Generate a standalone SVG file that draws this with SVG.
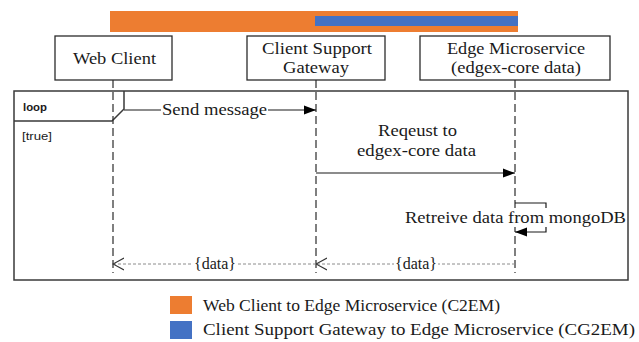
<svg xmlns="http://www.w3.org/2000/svg" width="639" height="342" viewBox="0 0 639 342">
  <defs>
    <style>
      .lbl { font-family: "Liberation Serif", "DejaVu Serif", serif; font-size: 16px; fill: #1a1a1a; }
      .node { fill: #ffffff; stroke: #2b2b2b; stroke-width: 1.3; }
      .life { stroke: #2b2b2b; stroke-width: 1.2; stroke-dasharray: 8 4; fill: none; }
      .msg { stroke: #1a1a1a; stroke-width: 1.2; fill: none; }
      .ret { stroke: #8c8c8c; stroke-width: 1; stroke-dasharray: 3 2; fill: none; }
      .frame { fill: none; stroke: #3a3a3a; stroke-width: 1.5; }
      .bg { fill: #ffffff; }
      .sans { font-family: "Liberation Sans", Arial, sans-serif; font-size: 11px; fill: #1a1a1a; }
    </style>
    <marker id="filled" markerWidth="12" markerHeight="10" refX="12" refY="5" orient="auto" markerUnits="userSpaceOnUse">
      <path d="M0,0.5 L12,5 L0,9.5 Z" fill="#000000"/>
    </marker>
    <marker id="open" markerWidth="12" markerHeight="14" refX="11" refY="7" orient="auto" markerUnits="userSpaceOnUse">
      <path d="M0,1 L11,7 L0,13" fill="none" stroke="#333333" stroke-width="1.1"/>
    </marker>
  </defs>

  <rect width="639" height="342" fill="#ffffff"/>

  <!-- span bars across the top -->
  <g id="span-bars">
    <rect x="110" y="11" width="408" height="21" fill="#ED7D31"/>
    <rect x="315" y="16" width="203" height="10" fill="#4472C4"/>
  </g>

  <!-- combined fragment -->
  <g id="loop-frame">
    <rect class="frame" x="14" y="91" width="614" height="189"/>
    <path class="frame" d="M14,121 L112,121 L124,109 L124,91"/>
    <text class="sans" x="23" y="111" font-weight="bold" textLength="24" lengthAdjust="spacingAndGlyphs">loop</text>
    <text class="sans" x="22" y="140" font-size="12" textLength="30" lengthAdjust="spacingAndGlyphs">[true]</text>
  </g>

  <!-- lifelines -->
  <g id="lifelines">
    <line class="life" x1="113" y1="80" x2="113" y2="273"/>
    <line class="life" x1="316" y1="80" x2="316" y2="273"/>
    <line class="life" x1="515" y1="80" x2="515" y2="273"/>
  </g>

  <!-- participants -->
  <g id="web-client">
    <rect class="node" x="55" y="36" width="117" height="44"/>
    <text class="lbl" x="73" y="64" textLength="83" lengthAdjust="spacingAndGlyphs">Web Client</text>
  </g>
  <g id="client-support-gateway">
    <rect class="node" x="247" y="36" width="138" height="44"/>
    <text class="lbl" x="262" y="54" textLength="110" lengthAdjust="spacingAndGlyphs">Client Support</text>
    <text class="lbl" x="283" y="73" textLength="66" lengthAdjust="spacingAndGlyphs">Gateway</text>
  </g>
  <g id="edge-microservice">
    <rect class="node" x="420" y="36" width="190" height="44"/>
    <text class="lbl" x="447" y="54" textLength="138" lengthAdjust="spacingAndGlyphs">Edge Microservice</text>
    <text class="lbl" x="451" y="73" textLength="130" lengthAdjust="spacingAndGlyphs">(edgex-core data)</text>
  </g>

  <!-- messages -->
  <g id="connectors">
    <line class="msg" x1="124" y1="110" x2="316" y2="110" marker-end="url(#filled)"/>
    <rect class="bg" x="161" y="102" width="107" height="17"/>
    <text class="lbl" x="162" y="115" textLength="105" lengthAdjust="spacingAndGlyphs">Send message</text>

    <text class="lbl" x="378" y="136" textLength="79" lengthAdjust="spacingAndGlyphs">Reqeust to</text>
    <text class="lbl" x="357" y="156" textLength="119" lengthAdjust="spacingAndGlyphs">edgex-core data</text>
    <line class="msg" x1="316" y1="173" x2="515" y2="173" marker-end="url(#filled)"/>

    <path class="msg" d="M515,203 L546,203 L546,232 L515,232" marker-end="url(#filled)"/>
    <rect class="bg" x="404" y="208" width="223" height="19"/>
    <text class="lbl" x="405" y="223" textLength="221" lengthAdjust="spacingAndGlyphs">Retreive data from mongoDB</text>

    <line class="ret" x1="515" y1="264" x2="316" y2="264" marker-end="url(#open)"/>
    <rect class="bg" x="394" y="256" width="44" height="16"/>
    <text class="lbl" x="395" y="269" textLength="42" lengthAdjust="spacingAndGlyphs">{data}</text>

    <line class="ret" x1="316" y1="264" x2="113" y2="264" marker-end="url(#open)"/>
    <rect class="bg" x="193" y="256" width="44" height="16"/>
    <text class="lbl" x="194" y="269" textLength="42" lengthAdjust="spacingAndGlyphs">{data}</text>
  </g>

  <!-- legend -->
  <g id="legend">
    <rect x="170" y="296" width="22" height="18" fill="#ED7D31"/>
    <rect x="170" y="321" width="22" height="18" fill="#4472C4"/>
    <text class="lbl" x="203" y="311" textLength="297" lengthAdjust="spacingAndGlyphs">Web Client to Edge Microservice (C2EM)</text>
    <text class="lbl" x="203" y="335" textLength="432" lengthAdjust="spacingAndGlyphs">Client Support Gateway to Edge Microservice (CG2EM)</text>
  </g>
</svg>
